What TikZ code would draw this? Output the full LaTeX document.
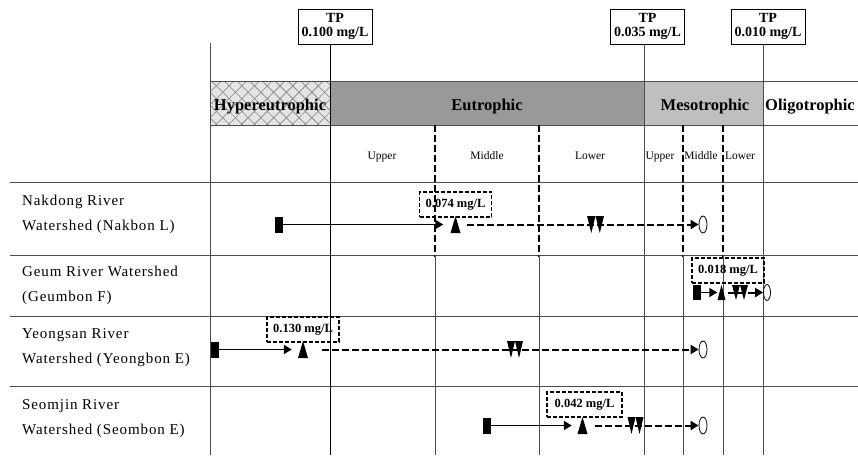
\documentclass[tikz,border=0pt]{standalone}
\usepackage{fontspec}
\setmainfont{Liberation Serif}
\usetikzlibrary{arrows.meta,patterns.meta,calc,shapes.geometric}
\begin{document}
\begin{tikzpicture}[x=1pt,y=-1pt,
  grid/.style={draw=black!70, line width=0.9pt},
  subdash/.style={draw=black, line width=1.6pt, dash pattern=on 7pt off 3pt},
  tpbox/.style={draw=black, line width=0.9pt, fill=white, align=center,
    font=\bfseries\fontsize{14}{14}\selectfont, minimum width=74pt, minimum height=35pt, inner sep=1pt},
  band/.style={font=\bfseries\fontsize{16.5}{18}\selectfont, inner sep=0, anchor=base},
  sub/.style={font=\fontsize{11.5}{13}\selectfont, inner sep=0, anchor=base},
  rowlab/.style={font=\fontsize{15}{18}\selectfont\addfontfeature{LetterSpace=6}, anchor=base west, inner sep=0},
  valbox/.style={draw=black, line width=1.4pt, dash pattern=on 4pt off 2pt,
    font=\bfseries\fontsize{12.5}{14}\selectfont, minimum width=72pt, minimum height=25pt, inner sep=0},
  startmk/.style={fill=black, minimum width=8pt, minimum height=16pt, inner sep=0},
  upmk/.style={minimum width=10pt, minimum height=17pt, inner sep=0,
    path picture={\fill (path picture bounding box.south west) -- (path picture bounding box.south east)
      -- (path picture bounding box.north) -- cycle;}},
  dnmk/.style={minimum width=17pt, minimum height=17pt, inner sep=0,
    path picture={
      \fill (path picture bounding box.north west) -- (path picture bounding box.north)
        -- ($(path picture bounding box.south west)!0.25!(path picture bounding box.south east)$) -- cycle;
      \fill (path picture bounding box.north) -- (path picture bounding box.north east)
        -- ($(path picture bounding box.south west)!0.75!(path picture bounding box.south east)$) -- cycle;
      \fill (path picture bounding box.north west) rectangle ($(path picture bounding box.north east)+(0,3pt)$);}},
  endmk/.style={ellipse, draw=black, line width=0.8pt, fill=white, minimum width=8pt, minimum height=17pt, inner sep=0},
  solidarr/.style={line width=1.8pt, -{Triangle[length=8pt,width=9pt]}},
  dasharr/.style={line width=2pt, dash pattern=on 7pt off 3pt, -{Triangle[length=8pt,width=9pt]}}
]
\useasboundingbox (0,0) rectangle (858,455);

% ---- header band ----
\fill[gray!18] (210,81) rectangle (330,125);
\fill[pattern={Lines[angle=45,distance=9pt,line width=0.6pt]}, pattern color=gray] (210,81) rectangle (330,125);
\fill[pattern={Lines[angle=-45,distance=9pt,line width=0.6pt]}, pattern color=gray] (210,81) rectangle (330,125);
\fill[pattern={Dots[distance=3pt,radius=0.45pt]}, pattern color=gray!80] (210,81) rectangle (330,125);
\fill[black!40] (330,81) rectangle (644,125);
\fill[black!25] (644,81) rectangle (763,125);

% ---- grid ----
\draw[grid] (210,81) -- (858,81);
\draw[grid] (210,125) -- (858,125);
\draw[grid] (10,182) -- (858,182);
\draw[grid] (10,255) -- (858,255);
\draw[grid] (10,316) -- (858,316);
\draw[grid] (10,386) -- (858,386);
\draw[grid] (210,43) -- (210,455);
\foreach \xx in {435,539,683,723} {
  \draw[subdash] (\xx,125) -- (\xx,257);
  \draw[grid] (\xx,255) -- (\xx,455);
}

% ---- TP boxes and thresholds ----
\coordinate (b330) at (330,455);
\coordinate (b644) at (644,455);
\coordinate (b763) at (763,455);
\node[tpbox] (tp1) at (335,26.5) {TP\\0.100 mg/L};
\node[tpbox] (tp2) at (647.5,26.5) {TP\\0.035 mg/L};
\node[tpbox] (tp3) at (768,26.5) {TP\\0.010 mg/L};
\draw[grid, draw=black] (tp1.south -| b330) -- (b330);
\draw[grid] (tp2.south -| b644) -- (b644);
\draw[grid] (tp3.south -| b763) -- (b763);

% ---- band labels ----
\node[band] (hyper) at (270,110) {Hypereutrophic};
\node[band] (eutro) at (487,110) {Eutrophic};
\node[band] (meso) at (705,110) {Mesotrophic};
\node[band] (oligo) at (810,110) {Oligotrophic};

\node[sub] (eu1) at (382,159) {Upper};
\node[sub] (eu2) at (487,159) {Middle};
\node[sub] (eu3) at (590,159) {Lower};
\node[sub] (me1) at (660,159) {Upper};
\node[sub] (me2) at (701,159) {Middle};
\node[sub] (me3) at (740,159) {Lower};

% ---- row labels ----
\node[rowlab] (l1a) at (22,205) {Nakdong River};
\node[rowlab] (l1b) at (22,230) {Watershed (Nakbon L)};
\node[rowlab] (l2a) at (22,276) {Geum River Watershed};
\node[rowlab] (l2b) at (22,301) {(Geumbon F)};
\node[rowlab] (l3a) at (22,338) {Yeongsan River};
\node[rowlab] (l3b) at (22,363) {Watershed (Yeongbon E)};
\node[rowlab] (l4a) at (22,409) {Seomjin River};
\node[rowlab] (l4b) at (22,434) {Watershed (Seombon E)};

% ---- row 1: Nakdong ----
\node[startmk] (n1s) at (279,224.5) {};
\node[upmk] (n1t) at (455.5,224.5) {};
\node[dnmk] (n1d) at (595.5,224.5) {};
\node[endmk] (n1e) at (703,224.5) {};
\node[valbox] (n1v) at (455.5,204.5) {0.074 mg/L};
\draw[solidarr, shorten >=7pt] (n1s) -- (n1t);
\draw[dasharr, shorten <=6pt] (n1t) -- (n1e);

% ---- row 2: Geum ----
\node[startmk, minimum height=15pt] (n2s) at (697,292.5) {};
\node[upmk, minimum width=8pt, minimum height=15pt] (n2t) at (721.5,292.5) {};
\node[dnmk, minimum width=16pt, minimum height=15pt] (n2d) at (740,292.5) {};
\node[endmk, minimum width=7pt, minimum height=16pt] (n2e) at (767,292.5) {};
\node[valbox] (n2v) at (728,270.5) {0.018 mg/L};
\draw[solidarr] (n2s) -- (n2t);
\draw[dasharr, shorten <=2pt] (n2t) -- (n2e);

% ---- row 3: Yeongsan ----
\node[startmk] (n3s) at (214.5,349.5) {};
\node[upmk] (n3t) at (303,349.5) {};
\node[dnmk, minimum width=16pt] (n3d) at (515,349.5) {};
\node[endmk] (n3e) at (703,349.5) {};
\node[valbox] (n3v) at (303,329.5) {0.130 mg/L};
\draw[solidarr, shorten >=6pt] (n3s) -- (n3t);
\draw[dasharr, shorten <=14pt] (n3t) -- (n3e);

% ---- row 4: Seomjin ----
\node[startmk] (n4s) at (487,425.5) {};
\node[upmk] (n4t) at (582.5,425.5) {};
\node[dnmk, minimum width=16pt] (n4d) at (635.5,425.5) {};
\node[endmk] (n4e) at (703,425.5) {};
\node[valbox, minimum width=75pt] (n4v) at (584.5,404.5) {0.042 mg/L};
\draw[solidarr, shorten >=5.5pt] (n4s) -- (n4t);
\draw[dasharr, shorten <=7pt] (n4t) -- (n4e);
\end{tikzpicture}
\end{document}
